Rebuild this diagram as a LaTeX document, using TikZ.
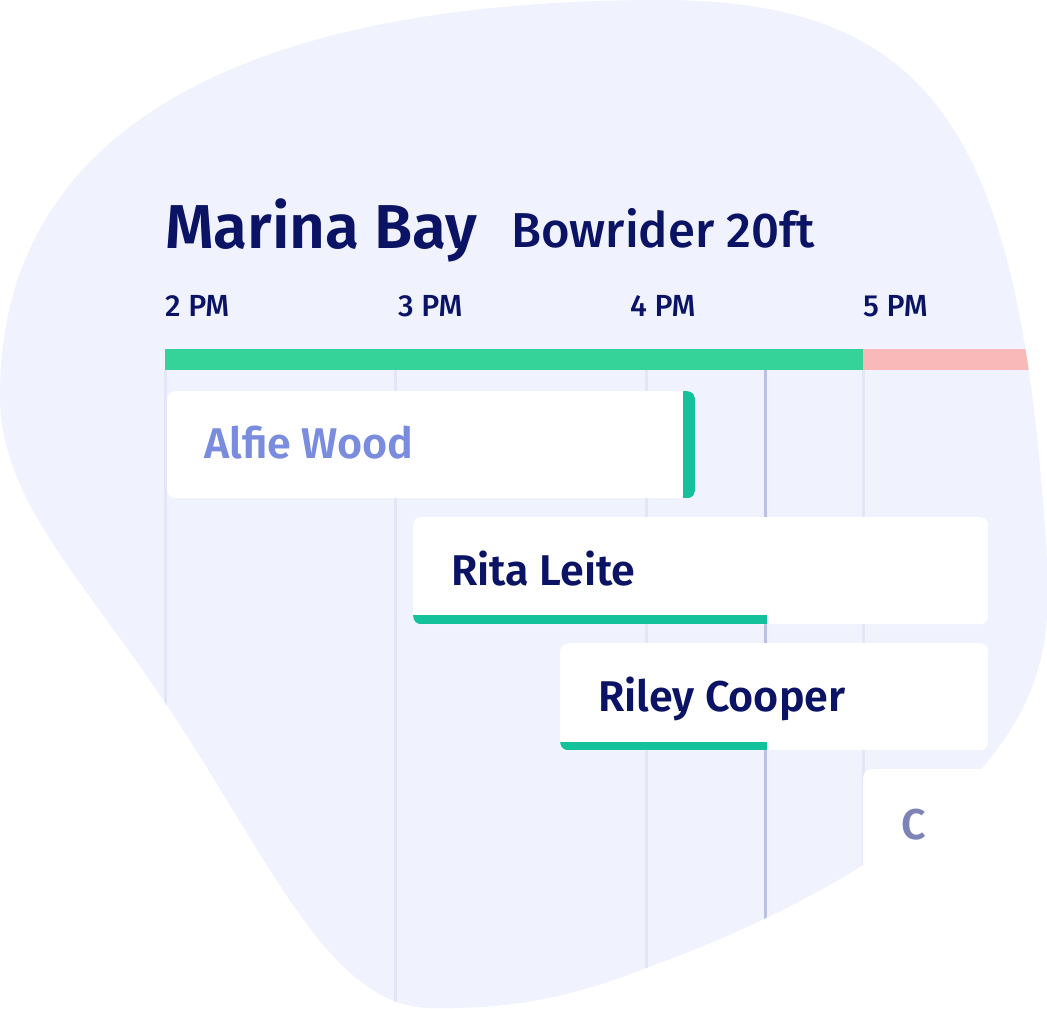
\documentclass[tikz,border=0pt]{standalone}
\usepackage{fontspec}
\setmainfont{Fira Sans}[BoldFont={Fira Sans SemiBold}]
\newfontfamily\medfont{Fira Sans Medium}
\usetikzlibrary{positioning}

\definecolor{blobBg}{HTML}{F0F3FD}
\definecolor{navy}{HTML}{0B1365}
\definecolor{gridLight}{HTML}{E3E6F6}
\definecolor{gridNow}{HTML}{BAC0E6}
\definecolor{barGreen}{HTML}{35D399}
\definecolor{barPink}{HTML}{F9B9B9}
\definecolor{stripGreen}{HTML}{13C29B}
\definecolor{pastName}{HTML}{7A8CDE}
\definecolor{fadeName}{HTML}{7D84B5}

\tikzset{
    x=1pt,
    y=-1pt,
    blob/.style = {
        fill=blobBg
    },
    gridline/.style = {
        draw=gridLight,
        line width=3pt
    },
    nowline/.style = {
        draw=gridNow,
        line width=3pt
    },
    card/.style = {
        fill=white,
        shape=rectangle,
        rounded corners=8pt,
        inner sep=0pt,
        anchor=north west
    },
    strip/.style = {
        fill=stripGreen,
        sharp corners
    },
    hourlabel/.style = {
        anchor=base west,
        inner sep=0pt,
        text=navy,
        font=\medfont\fontsize{30.5}{30}\selectfont
    },
    guestname/.style = {
        anchor=base west,
        inner sep=0pt,
        text=navy,
        font=\bfseries\fontsize{43}{43}\selectfont
    },
}

\def\blobpath{(0,395) .. controls (0,125) and (250,0) .. (660,0)
    .. controls (940,0) and (1022,140) .. (1047,560)
    .. controls (1052,640) and (1040,700) .. (983,767)
    .. controls (930,829) and (820,905) .. (646,968)
    .. controls (560,1002) and (500,1009) .. (430,1008)
    .. controls (330,1007) and (270,860) .. (170,710)
    .. controls (80,575) and (0,500) .. (0,395) -- cycle}

\begin{document}
\begin{tikzpicture}
    \useasboundingbox (0,0) rectangle (1047,1009);
    \fill[blob] \blobpath;

    \begin{scope}
        \clip \blobpath;
        % hour lines
        \foreach \hx in {165,395,646,863}
            \path[gridline] (\hx,370) -- (\hx,1009);
        \path[nowline] (765,370) -- (765,1009);

        % booked / free bar
        \fill[barGreen] (165,349) rectangle (863,370);
        \fill[barPink] (863,349) rectangle (1047,370);

        % bookings
        \node[card, minimum width=528, minimum height=107,
            path picture={\path[strip] ([xshift=-12pt]path picture bounding box.north east) rectangle (path picture bounding box.south east);}]
            (alfie) at (167,391) {};
        \node[card, minimum width=575, minimum height=107,
            path picture={\path[strip] (path picture bounding box.south west) rectangle ([xshift=354pt,yshift=9pt]path picture bounding box.south west);}]
            (rita) at (413,517) {};
        \node[card, minimum width=428, minimum height=107,
            path picture={\path[strip] (path picture bounding box.south west) rectangle ([xshift=207pt,yshift=8pt]path picture bounding box.south west);}]
            (riley) at (560,643) {};
        \node[card, minimum width=200, minimum height=260] (nextcard) at (863,769) {};
    \end{scope}

    % titles
    \node[anchor=base west, inner sep=0pt, text=navy, font=\bfseries\fontsize{62}{62}\selectfont] (marina) at (165,248) {Marina Bay};
    \node[anchor=base west, inner sep=0pt, text=navy, font=\medfont\fontsize{49}{49}\selectfont] (boat) at (511,247) {Bowrider 20ft};

    \node[hourlabel] (h2) at (165,316) {2 PM};
    \node[hourlabel] (h3) at (398,316) {3 PM};
    \node[hourlabel] (h4) at (630,316) {4 PM};
    \node[hourlabel] (h5) at (863,316) {5 PM};

    \node[guestname, text=pastName] (alfietxt) at (204,458) {Alfie Wood};
    \node[guestname] (ritatxt) at (451,585) {Rita Leite};
    \node[guestname] (rileytxt) at (598,711) {Riley Cooper};
    \node[guestname, text=fadeName] (nexttxt) at (901,839) {C};
\end{tikzpicture}
\end{document}
